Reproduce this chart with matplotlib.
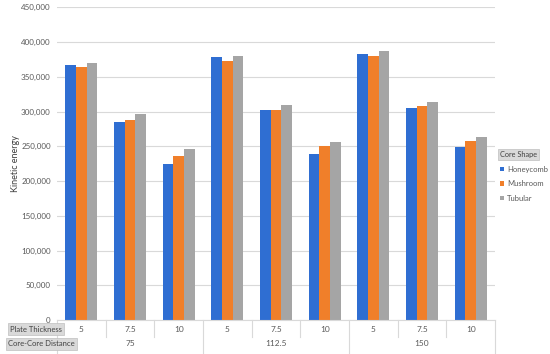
import matplotlib
matplotlib.use("Agg")
import matplotlib.pyplot as plt
import numpy as np
from matplotlib.lines import Line2D
from matplotlib.ticker import FuncFormatter, MultipleLocator

plt.rcParams['font.family'] = ['Lato', 'DejaVu Sans']

distances = ["75", "112.5", "150"]
thickness = ["5", "7.5", "10"]
series_names = ["Honeycomb", "Mushroom", "Tubular"]
honeycomb = [367000, 284500, 225000, 378500, 302000, 239500, 382500, 305500, 249000]
mushroom = [364000, 287500, 236500, 373000, 302000, 251000, 380000, 307500, 257000]
tubular = [370000, 297000, 245500, 380500, 309500, 256500, 387500, 314000, 263500]
colors = ["#2F6ED2", "#F07F2A", "#A5A5A5"]

W, H = 550, 354
fig = plt.figure(figsize=(W / 100, H / 100), dpi=100)
x0, x1 = 57, 495
y_bot, y_top = 320, 7.3
ax = fig.add_axes([x0 / W, 1 - y_bot / H, (x1 - x0) / W, (y_bot - y_top) / H])

n = len(honeycomb)
x = np.arange(n)
bw = 0.22
handles = []
for i, (vals, c, name) in enumerate(zip([honeycomb, mushroom, tubular], colors, series_names)):
    b = ax.bar(x + (i - 1) * bw, vals, width=bw, color=c, label=name, zorder=3)
    handles.append(b)

ax.set_xlim(-0.5, n - 0.5)
ax.set_ylim(0, 450000)
ax.yaxis.set_major_locator(MultipleLocator(50000))
ax.yaxis.set_major_formatter(FuncFormatter(lambda v, p: f"{int(v):,}"))
ax.grid(axis='y', color='#D9D9D9', linewidth=0.8, zorder=0)
for s in ax.spines.values():
    s.set_visible(False)
ax.tick_params(axis='y', length=0, labelsize=5.8, labelcolor='#595959', pad=4.5)
ax.tick_params(axis='x', length=0, labelbottom=False)
ax.set_ylabel("Kinetic energy", fontsize=6.5, color='#404040')
ax.yaxis.set_label_coords((20 - x0) / (x1 - x0), 0.5)

# category table below the axis
row1_y = 329
row2_y = 344
def fy(py):
    return 1 - py / H
def fx(px):
    return px / W
col_w = (x1 - x0) / n
lc = '#D9D9D9'
fig.add_artist(Line2D([fx(x0), fx(x1)], [fy(320), fy(320)], color=lc, lw=0.8))
for k in range(n + 1):
    px = x0 + k * col_w
    if k % 3 == 0:
        fig.add_artist(Line2D([fx(px), fx(px)], [fy(320), fy(354)], color=lc, lw=0.8))
    else:
        fig.add_artist(Line2D([fx(px), fx(px)], [fy(320), fy(337)], color=lc, lw=0.8))
for k in range(n):
    px = x0 + (k + 0.5) * col_w
    fig.text(fx(px), fy(row1_y), thickness[k % 3], ha='center', va='center', fontsize=6.0, color='#595959')
for g in range(3):
    px = x0 + (g * 3 + 1.5) * col_w
    fig.text(fx(px), fy(row2_y), distances[g], ha='center', va='center', fontsize=6.0, color='#595959')

box = dict(boxstyle='square,pad=0.3', facecolor='#D9D9D9', edgecolor='#BFBFBF', lw=0.5)
fig.text(fx(10), fy(row1_y), "Plate Thickness", ha='left', va='center', fontsize=5.5, color='#404040', bbox=box)
fig.text(fx(8), fy(row2_y), "Core-Core Distance", ha='left', va='center', fontsize=5.5, color='#404040', bbox=box)

leg = ax.legend(handles=handles, title="Core Shape", loc='upper left',
                bbox_to_anchor=(fx(500), fy(151)), bbox_transform=fig.transFigure,
                frameon=False, fontsize=5.5, title_fontsize=5.3,
                handlelength=0.5, handleheight=0.5, handletextpad=0.4,
                labelspacing=1.0, borderaxespad=0, borderpad=0, alignment='left')
for t in leg.get_texts():
    t.set_color('#595959')
leg.get_title().set_color('#404040')
leg.get_title().set_bbox(dict(boxstyle='square,pad=0.3', facecolor='#D9D9D9', edgecolor='#BFBFBF', lw=0.5))

fig.savefig("out.png", dpi=100)
